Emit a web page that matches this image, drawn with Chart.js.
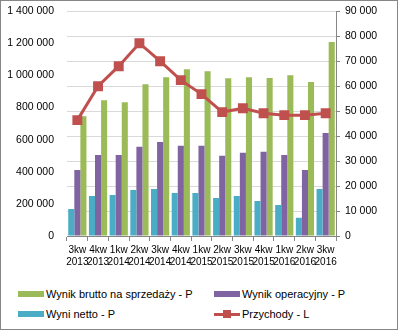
<!DOCTYPE html>
<html>
<head>
<meta charset="utf-8">
<script src="https://cdn.jsdelivr.net/npm/chart.js@4"></script>
<style>
  html, body { margin: 0; padding: 0; background: #fff; }
  #wrap { position: relative; width: 398px; height: 330px; overflow: hidden; font-family: 'Liberation Sans', Arial, sans-serif; }
  #frame { position: absolute; left: 0; top: 0; width: 396px; height: 328px; border: 1px solid #868686; pointer-events: none; }
  #chart { position: absolute; left: 0; top: 0; }
  .lg { position: absolute; font-size: 11px; color: #000; display: flex; align-items: center; white-space: nowrap; }
  .sw { width: 26px; height: 6px; margin-right: 2px; }
  .sw-line { width: 26px; height: 8px; margin-right: 2px; position: relative; }
  .sw-line:before { content: ''; position: absolute; left: 0; right: 0; top: 3px; height: 3px; background: #C0504D; }
  .sw-line:after { content: ''; position: absolute; left: 9px; top: 0; width: 8px; height: 8px; background: #C0504D; }
</style>
</head>
<body>
<div id="wrap">
  <canvas id="chart" width="398" height="275"></canvas>
  <div class="lg" style="left:18px; top:288px;"><span class="sw" style="background:#9BBB59"></span>Wynik brutto na sprzedaży - P</div>
  <div class="lg" style="left:214px; top:288px;"><span class="sw" style="background:#8064A2"></span>Wynik operacyjny - P</div>
  <div class="lg" style="left:18px; top:308px;"><span class="sw" style="background:#4BACC6"></span>Wyni netto - P</div>
  <div class="lg" style="left:214px; top:308px;"><span class="sw-line"></span>Przychody - L</div>
  <div id="frame"></div>
</div>
<script>
// quarters (two-line labels)
const quarters = [
  ['3kw', '2013'], ['4kw', '2013'], ['1kw', '2014'], ['2kw', '2014'], ['3kw', '2014'],
  ['4kw', '2014'], ['1kw', '2015'], ['2kw', '2015'], ['3kw', '2015'], ['4kw', '2015'],
  ['1kw', '2016'], ['2kw', '2016'], ['3kw', '2016'],
];

// right axis (P) series
const wynikNetto = [10800, 16000, 16400, 18400, 18800, 17200, 17200, 15200, 16000, 14000, 12400, 7300, 18800];
const wynikOperacyjny = [26400, 32400, 32400, 35700, 37700, 36100, 36100, 32100, 33300, 33700, 32400, 26400, 41300];
const wynikBrutto = [48000, 54400, 53600, 60800, 63600, 66800, 66000, 63200, 63600, 63300, 64400, 61700, 77700];

// left axis (L) series
const przychody = [722000, 933000, 1058000, 1201000, 1089000, 971000, 884000, 772000, 796000, 765000, 753000, 753000, 765000];

const leftTicks = { min: 0, max: 1400000, step: 200000 };
const rightTicks = { min: 0, max: 90000, step: 10000 };

const fmt = (v) => String(v).replace(/\B(?=(\d{3})+(?!\d))/g, ' ');
const tickFont = { family: "'Liberation Sans', Arial, sans-serif", size: 10.5 };

new Chart(document.getElementById('chart'), {
  data: {
    labels: quarters,
    datasets: [
      { type: 'bar', label: 'Wyni netto - P', data: wynikNetto, backgroundColor: '#4BACC6', yAxisID: 'y1', order: 1 },
      { type: 'bar', label: 'Wynik operacyjny - P', data: wynikOperacyjny, backgroundColor: '#8064A2', yAxisID: 'y1', order: 1 },
      { type: 'bar', label: 'Wynik brutto na sprzedaży - P', data: wynikBrutto, backgroundColor: '#9BBB59', yAxisID: 'y1', order: 1 },
      {
        type: 'line',
        label: 'Przychody - L',
        data: przychody,
        borderColor: '#C0504D',
        backgroundColor: '#C0504D',
        borderWidth: 3,
        pointStyle: 'rect',
        pointRadius: 7,
        pointBorderWidth: 0,
        tension: 0,
        yAxisID: 'y',
        order: 0,
      },
    ],
  },
  options: {
    responsive: false,
    animation: false,
    layout: { autoPadding: false, padding: { left: 0, right: 6, top: 11, bottom: 4 } },
    datasets: { bar: { categoryPercentage: 0.88, barPercentage: 1.0 } },
    plugins: { legend: { display: false }, tooltip: { enabled: false } },
    scales: {
      x: {
        grid: { drawOnChartArea: false, drawTicks: true, tickLength: 5, tickColor: '#868686', offset: true },
        border: { color: '#868686' },
        ticks: { font: { ...tickFont, size: 10 }, color: '#000', autoSkip: false, maxRotation: 0, minRotation: 0, padding: 3 },
      },
      y: {
        position: 'left',
        min: leftTicks.min,
        max: leftTicks.max,
        // invisible tick marks keep the labels clear of the plot
        grid: { drawOnChartArea: false, drawTicks: true, tickLength: 10, tickColor: 'rgba(0,0,0,0)' },
        border: { display: false },
        ticks: { stepSize: leftTicks.step, font: tickFont, color: '#000', padding: 3, callback: (v) => fmt(v) },
        afterFit(scale) { scale.width = 67; },
      },
      y1: {
        position: 'right',
        min: rightTicks.min,
        max: rightTicks.max,
        grid: { color: '#D9D9D9', tickColor: '#868686', tickLength: 4 },
        border: { color: '#868686' },
        ticks: { stepSize: rightTicks.step, font: tickFont, color: '#000', padding: 5, callback: (v) => fmt(v) },
        afterFit(scale) { scale.width = 56; },
      },
    },
  },
});
</script>
</body>
</html>
